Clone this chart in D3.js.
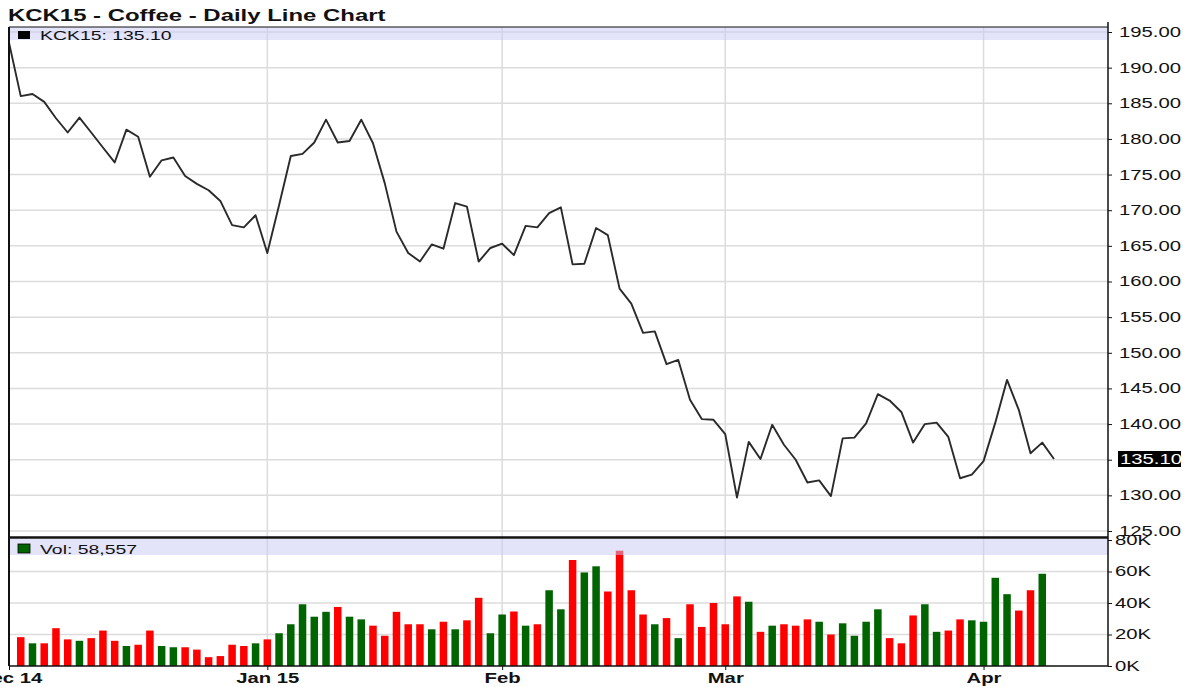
<!DOCTYPE html>
<html lang="en">
<head>
<meta charset="UTF-8">
<title>KCK15 - Coffee - Daily Line Chart</title>
<style>
    body {
        margin: 0;
        background: #fff;
    }
    svg {
        display: block;
        font-family: "Liberation Sans", Arial, sans-serif;
    }
</style>
</head>
<body>
<svg id="chart" width="1187" height="687"></svg>
<script src="https://d3js.org/d3.v7.min.js"></script>
<script>
    // Trading days on the chart (Dec 2014 - Apr 2015)
    const dates = [
        "2014-12-01","2014-12-02","2014-12-03","2014-12-04","2014-12-05","2014-12-08","2014-12-09","2014-12-10",
        "2014-12-11","2014-12-12","2014-12-15","2014-12-16","2014-12-17","2014-12-18","2014-12-19","2014-12-22",
        "2014-12-23","2014-12-24","2014-12-26","2014-12-29","2014-12-30","2014-12-31",
        "2015-01-02","2015-01-05","2015-01-06","2015-01-07","2015-01-08","2015-01-09","2015-01-12","2015-01-13",
        "2015-01-14","2015-01-15","2015-01-16","2015-01-20","2015-01-21","2015-01-22","2015-01-23","2015-01-26",
        "2015-01-27","2015-01-28","2015-01-29","2015-01-30",
        "2015-02-02","2015-02-03","2015-02-04","2015-02-05","2015-02-06","2015-02-09","2015-02-10","2015-02-11",
        "2015-02-12","2015-02-13","2015-02-17","2015-02-18","2015-02-19","2015-02-20","2015-02-23","2015-02-24",
        "2015-02-25","2015-02-26","2015-02-27",
        "2015-03-02","2015-03-03","2015-03-04","2015-03-05","2015-03-06","2015-03-09","2015-03-10","2015-03-11",
        "2015-03-12","2015-03-13","2015-03-16","2015-03-17","2015-03-18","2015-03-19","2015-03-20","2015-03-23",
        "2015-03-24","2015-03-25","2015-03-26","2015-03-27","2015-03-30","2015-03-31",
        "2015-04-01","2015-04-02","2015-04-06","2015-04-07","2015-04-08","2015-04-09","2015-04-10"
    ];

    // Daily close, cents/lb
    const closes = [
        193.5, 186.0, 186.3, 185.2, 182.9, 180.9, 183.0, 180.9, 178.8, 176.7,
        181.3, 180.3, 174.7, 177.0, 177.4, 174.8, 173.7, 172.8, 171.3, 167.9,
        167.6, 169.3, 164.0, 170.7, 177.6, 177.9, 179.5, 182.7, 179.5, 179.7,
        182.7, 179.4, 173.8, 167.0, 164.0, 162.8, 165.2, 164.6, 171.0, 170.5,
        162.8, 164.7, 165.3, 163.7, 167.8, 167.6, 169.6, 170.4, 162.4, 162.5,
        167.5, 166.5, 159.0, 156.9, 152.8, 153.0, 148.4, 149.0, 143.4, 140.7,
        140.6, 138.6, 129.7, 137.5, 135.1, 139.9, 137.1, 135.0, 131.8, 132.1,
        129.9, 138.0, 138.1, 140.1, 144.2, 143.3, 141.7, 137.4, 140.0, 140.2,
        138.2, 132.4, 132.9, 134.8, 140.2, 146.2, 142.0, 135.9, 137.4, 135.10
    ];

    // Daily volume, contracts (null = no bar drawn)
    const volumes = [
        null, 18300, 14400, 14400, 24000, 16900, 16000, 17700, 22500, 16000,
        12700, 13500, 22500, 12700, 11900, 11900, 10400, 5600, 6300, 13500,
        12700, 14400, 16900, 20800, 26500, 39200, 31300, 34400, 37500, 31300,
        29600, 25600, 19200, 34400, 26500, 26500, 23300, 28100, 23300, 29000,
        43300, 20800, 32700, 34600, 25600, 26500, 48100, 36000, 67300, 59400,
        63300, 47300, 73200, 48100, 32700, 26500, 30400, 17700, 39200, 24800,
        40000, 26500, 44200, 40800, 21700, 25600, 26500, 25600, 29600, 28100,
        20000, 27100, 19200, 28100, 36000, 17700, 14400, 32100, 39200, 21700,
        22500, 29600, 29000, 28100, 56000, 45600, 35200, 48100, 58557, null
    ];

    const priceTicks = [125, 130, 135, 140, 145, 150, 155, 160, 165, 170, 175, 180, 185, 190, 195];
    const volumeTicks = [0, 20000, 40000, 60000, 80000];
    const monthTicks = ["2014-12-01", "2015-01-02", "2015-02-02", "2015-03-02", "2015-04-01"];
    const monthLabels = ["Dec 14", "Jan 15", "Feb", "Mar", "Apr"];

    // layout
    const left = 9, right = 1108;
    const priceTop = 27, priceBottom = 537;
    const volTop = 539, volBottom = 666;
    const SX = 1.45;   // the source picture is stretched sideways, so text is too

    const svg = d3.select("#chart");

    const x = d3.scalePoint().domain(dates).range([left, 1054]);
    const y = d3.scaleLinear().domain([125, 195]).range([531, 32]);
    const yVol = d3.scaleLinear().domain([0, 80000]).range([volBottom, 540]);

    const lastIdx = closes.length - 1;
    const lastVol = volumes.filter(v => v != null).slice(-1)[0];

    const defs = svg.append("defs");
    defs.append("clipPath").attr("id", "clipPrice")
        .append("rect").attr("x", left).attr("y", priceTop)
        .attr("width", right - left).attr("height", priceBottom - priceTop);
    defs.append("clipPath").attr("id", "clipVol")
        .append("rect").attr("x", left).attr("y", volTop)
        .attr("width", right - left).attr("height", volBottom - volTop);

    // Title
    svg.append("text")
        .attr("transform", `translate(8,21) scale(${SX},1)`)
        .style("font-size", "16.5px")
        .style("font-weight", "bold")
        .attr("fill", "#111")
        .text("KCK15 - Coffee - Daily Line Chart");

    // Grid lines
    const grid = svg.append("g").attr("stroke", "#dcdcdc").attr("stroke-width", 1.5);
    grid.selectAll(".hp").data(priceTicks).enter().append("line")
        .attr("x1", left).attr("x2", right)
        .attr("y1", d => y(d)).attr("y2", d => y(d));
    grid.selectAll(".hv").data(volumeTicks.slice(1, -1)).enter().append("line")
        .attr("x1", left).attr("x2", right)
        .attr("y1", d => yVol(d)).attr("y2", d => yVol(d));
    grid.selectAll(".vm").data(monthTicks.slice(1)).enter().append("line")
        .attr("x1", d => x(d)).attr("x2", d => x(d))
        .attr("y1", priceTop).attr("y2", volBottom);

    // Volume bars
    const barW = 7.5;
    svg.append("g").attr("clip-path", "url(#clipVol)")
        .selectAll("rect")
        .data(dates.map((d, i) => ({ d, i, v: volumes[i] })).filter(p => p.v != null))
        .enter().append("rect")
        .attr("x", p => x(p.d) - barW / 2)
        .attr("width", barW)
        .attr("y", p => yVol(p.v))
        .attr("height", p => yVol(0) - yVol(p.v))
        .attr("fill", p => (p.i > 0 && closes[p.i] >= closes[p.i - 1]) ? "#006400" : "#ff0000");

    // Price line
    const line = d3.line()
        .x((c, i) => x(dates[i]))
        .y(c => y(c));
    svg.append("path")
        .attr("clip-path", "url(#clipPrice)")
        .datum(closes)
        .attr("d", line)
        .attr("fill", "none")
        .attr("stroke", "#2a2a2a")
        .attr("stroke-width", 1.9)
        .attr("stroke-linejoin", "round");

    // Legend bands (see-through, as in the original)
    svg.append("rect").attr("x", left).attr("y", priceTop)
        .attr("width", right - left).attr("height", 13)
        .attr("fill", "rgba(200,200,245,0.5)");
    svg.append("rect").attr("x", left).attr("y", volTop)
        .attr("width", right - left).attr("height", 16)
        .attr("fill", "rgba(200,200,245,0.5)");

    svg.append("rect").attr("x", 18).attr("y", 31).attr("width", 12).attr("height", 8).attr("fill", "#000");
    svg.append("text")
        .attr("transform", `translate(40,39.5) scale(${SX},1)`)
        .style("font-size", "13.4px").attr("fill", "#111")
        .text("KCK15: " + d3.format(".2f")(closes[lastIdx]));

    svg.append("rect").attr("x", 18).attr("y", 544).attr("width", 12).attr("height", 9)
        .attr("fill", "#006400").attr("stroke", "#000").attr("stroke-width", 0.8);
    svg.append("text")
        .attr("transform", `translate(40,553.5) scale(${SX},1)`)
        .style("font-size", "13.4px").attr("fill", "#111")
        .text("Vol: " + d3.format(",")(lastVol));

    // Frame
    const frame = svg.append("g").attr("stroke", "#111");
    frame.append("line").attr("x1", left).attr("x2", left).attr("y1", priceTop).attr("y2", volBottom).attr("stroke-width", 2);
    frame.append("line").attr("x1", left).attr("x2", right).attr("y1", priceTop).attr("y2", priceTop).attr("stroke-width", 1);
    frame.append("line").attr("x1", left).attr("x2", right).attr("y1", priceBottom + 0.5).attr("y2", priceBottom + 0.5).attr("stroke-width", 2.5);
    frame.append("line").attr("x1", left).attr("x2", right).attr("y1", volBottom).attr("y2", volBottom).attr("stroke-width", 1.5);
    frame.append("line").attr("x1", right).attr("x2", right).attr("y1", 22).attr("y2", volBottom).attr("stroke-width", 1.5);

    // Right axes
    const priceAxis = svg.append("g")
        .attr("transform", `translate(${right},0)`)
        .call(d3.axisRight(y).tickValues(priceTicks).tickFormat(d3.format(".2f")).tickSizeInner(4).tickSizeOuter(0));
    const volAxis = svg.append("g")
        .attr("transform", `translate(${right},0)`)
        .call(d3.axisRight(yVol).tickValues(volumeTicks).tickFormat(d => d / 1000 + "K").tickSizeInner(4).tickSizeOuter(0));
    [priceAxis, volAxis].forEach(a => {
        a.select(".domain").remove();
        a.selectAll("line").attr("stroke", "#111");
        a.selectAll("text")
            .attr("x", 11 / SX)
            .attr("transform", `scale(${SX},1)`)
            .style("font-size", "14px")
            .attr("fill", "#111");
    });
    volAxis.selectAll("text").attr("x", 7 / SX);

    // Last price marker
    const lastY = y(closes[lastIdx]);
    svg.append("rect").attr("x", right + 10).attr("y", lastY - 8)
        .attr("width", 63).attr("height", 16).attr("fill", "#000");
    svg.append("text")
        .attr("transform", `translate(${right + 12},${lastY + 5}) scale(${SX},1)`)
        .style("font-size", "14px").attr("fill", "#fff")
        .text(d3.format(".2f")(closes[lastIdx]));

    // Bottom date axis
    const dateAxis = svg.append("g")
        .attr("transform", `translate(0,${volBottom})`)
        .call(d3.axisBottom(x).tickValues(monthTicks).tickFormat((d, i) => monthLabels[i]).tickSizeInner(4).tickSizeOuter(0));
    dateAxis.select(".domain").remove();
    dateAxis.selectAll("line").attr("stroke", "#111");
    dateAxis.selectAll("text")
        .attr("transform", `scale(${SX},1)`)
        .style("font-size", "14px")
        .style("font-weight", "bold")
        .attr("fill", "#111");
</script>
</body>
</html>
